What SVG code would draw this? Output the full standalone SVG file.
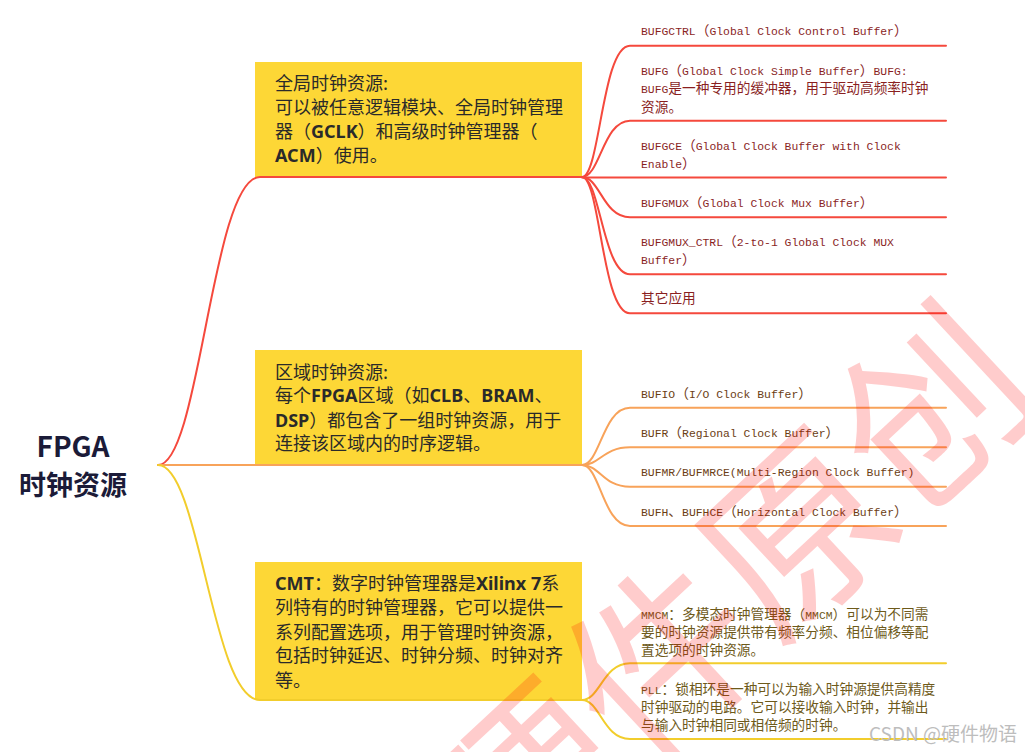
<svg xmlns="http://www.w3.org/2000/svg" width="1025" height="752" viewBox="0 0 1025 752">
<style>
.box{fill:#fdd736;}
.bt{font-family:"Noto Sans CJK SC","Noto Sans",sans-serif;font-size:18px;fill:#2a2a2a;}
.b{font-weight:bold;font-family:"Noto Sans","Noto Sans CJK SC",sans-serif;}
.root{font-family:"Noto Sans CJK SC","Noto Sans",sans-serif;font-weight:bold;fill:#1b1b38;text-anchor:middle;}
.lt{font-family:"Liberation Mono","Noto Sans CJK SC",monospace;font-size:11.4px;}
.cj{font-family:"Noto Sans CJK SC",sans-serif;font-size:13.7px;}
.tr{fill:#8a1f1f;}
.to{fill:#6b3d14;}
.ty{fill:#6e5a1a;}
.cn{fill:none;stroke-width:2;stroke-linecap:round;}
.lr{stroke:#f5493d;}
.lo{stroke:#f8a35a;}
.ly{stroke:#f2cd2c;}
.wm{font-family:"Noto Sans CJK SC",sans-serif;font-size:185px;fill:#ff0000;fill-opacity:0.2;}
.csdn{font-family:"Noto Sans CJK SC",sans-serif;font-size:19px;fill:#bdbdbd;}
</style>

<g id="root">
<text class="root" x="73" y="457" font-size="28">FPGA</text>
<text class="root" x="73" y="495" font-size="27">时钟资源</text>
</g>

<g id="box-global">
<rect class="box" x="255" y="62" width="327" height="115"/>
<text class="bt" x="275" y="89.5">全局时钟资源:</text>
<text class="bt" x="275" y="113.8">可以被任意逻辑模块、全局时钟管理</text>
<text class="bt" x="275" y="138.1">器（<tspan class="b">GCLK</tspan>）和高级时钟管理器（</text>
<text class="bt" x="275" y="162.4"><tspan class="b">ACM</tspan>）使用。</text>
</g>

<g id="box-region">
<rect class="box" x="255" y="350" width="327" height="115"/>
<text class="bt" x="275" y="378.5">区域时钟资源:</text>
<text class="bt" x="275" y="402">每个<tspan class="b">FPGA</tspan>区域（如<tspan class="b">CLB</tspan>、<tspan class="b">BRAM</tspan>、</text>
<text class="bt" x="275" y="426.5"><tspan class="b">DSP</tspan>）都包含了一组时钟资源，用于</text>
<text class="bt" x="275" y="449.5">连接该区域内的时序逻辑。</text>
</g>

<g id="box-cmt">
<rect class="box" x="255" y="562" width="327" height="138"/>
<text class="bt" x="275" y="589.5"><tspan class="b">CMT</tspan>：数字时钟管理器是<tspan class="b">Xilinx 7</tspan>系</text>
<text class="bt" x="275" y="614">列特有的时钟管理器，它可以提供一</text>
<text class="bt" x="275" y="638.5">系列配置选项，用于管理时钟资源，</text>
<text class="bt" x="275" y="662">包括时钟延迟、时钟分频、时钟对齐</text>
<text class="bt" x="275" y="686.5">等。</text>
</g>

<g id="connectors">
<path class="cn lr" d="M158,465 C200,465 212,177 260,177 L582,177"/>
<path class="cn lo" d="M158,465 L582,465"/>
<path class="cn ly" d="M158,465 C200,465 212,700 260,700 L582,700"/>

<path class="cn lr" d="M582,177 C600,177 602,45.7 630,45.7 L946,45.7"/>
<path class="cn lr" d="M582,177 C600,177 603,120.7 630,120.7 L946,120.7"/>
<path class="cn lr" d="M582,177.5 L946,177.5"/>
<path class="cn lr" d="M582,177 C600,177 603,217.3 630,217.3 L946,217.3"/>
<path class="cn lr" d="M582,177 C600,177 603,274.3 630,274.3 L946,274.3"/>
<path class="cn lr" d="M582,177 C600,177 602,313.3 630,313.3 L946,313.3"/>

<path class="cn lo" d="M582,465 C600,465 603,407.7 630,407.7 L946,407.7"/>
<path class="cn lo" d="M582,465 C600,465 603,447.3 630,447.3 L946,447.3"/>
<path class="cn lo" d="M582,465 C600,465 603,486.7 630,486.7 L946,486.7"/>
<path class="cn lo" d="M582,465 C600,465 603,526 630,526 L946,526"/>

<path class="cn ly" d="M582,700 C600,700 603,663.3 630,663.3 L946,663.3"/>
<path class="cn ly" d="M582,700 C600,700 603,739 630,739 L946,739"/>
</g>

<g id="leaf-bufgctrl"><text class="lt tr" x="641" y="35">BUFGCTRL<tspan class="cj">（</tspan>Global Clock Control Buffer<tspan class="cj">）</tspan></text></g>
<g id="leaf-bufg">
<text class="lt tr" x="641" y="74.5">BUFG<tspan class="cj">（</tspan>Global Clock Simple Buffer<tspan class="cj">）</tspan>BUFG:</text>
<text class="lt tr" x="641" y="93">BUFG<tspan class="cj">是一种专用的缓冲器，用于驱动高频率时钟</tspan></text>
<text class="lt tr" x="641" y="111.5"><tspan class="cj">资源。</tspan></text>
</g>
<g id="leaf-bufgce">
<text class="lt tr" x="641" y="149.5">BUFGCE<tspan class="cj">（</tspan>Global Clock Buffer with Clock</text>
<text class="lt tr" x="641" y="167.5">Enable<tspan class="cj">）</tspan></text>
</g>
<g id="leaf-bufgmux"><text class="lt tr" x="641" y="206.8">BUFGMUX<tspan class="cj">（</tspan>Global Clock Mux Buffer<tspan class="cj">）</tspan></text></g>
<g id="leaf-bufgmux-ctrl">
<text class="lt tr" x="641" y="246.2">BUFGMUX_CTRL<tspan class="cj">（</tspan>2-to-1 Global Clock MUX</text>
<text class="lt tr" x="641" y="263.8">Buffer<tspan class="cj">）</tspan></text>
</g>
<g id="leaf-other"><text class="lt tr" x="641" y="303.3"><tspan class="cj">其它应用</tspan></text></g>

<g id="leaf-bufio"><text class="lt to" x="641" y="397.8">BUFIO<tspan class="cj">（</tspan>I/O Clock Buffer<tspan class="cj">）</tspan></text></g>
<g id="leaf-bufr"><text class="lt to" x="641" y="436.8">BUFR<tspan class="cj">（</tspan>Regional Clock Buffer<tspan class="cj">）</tspan></text></g>
<g id="leaf-bufmr"><text class="lt to" x="641" y="476.2">BUFMR/BUFMRCE(Multi-Region Clock Buffer)</text></g>
<g id="leaf-bufh"><text class="lt to" x="641" y="516.2">BUFH<tspan class="cj">、</tspan>BUFHCE<tspan class="cj">（</tspan>Horizontal Clock Buffer<tspan class="cj">）</tspan></text></g>

<g id="leaf-mmcm">
<text class="lt ty" x="641" y="618.5">MMCM<tspan class="cj">：多模态时钟管理器（</tspan>MMCM<tspan class="cj">）可以为不同需</tspan></text>
<text class="lt ty" x="641" y="637.3"><tspan class="cj">要的时钟资源提供带有频率分频、相位偏移等配</tspan></text>
<text class="lt ty" x="641" y="655"><tspan class="cj">置选项的时钟资源。</tspan></text>
</g>
<g id="leaf-pll">
<text class="lt ty" x="641" y="693.5">PLL<tspan class="cj">：锁相环是一种可以为输入时钟源提供高精度</tspan></text>
<text class="lt ty" x="641" y="711.7"><tspan class="cj">时钟驱动的电路。它可以接收输入时钟，并输出</tspan></text>
<text class="lt ty" x="641" y="730"><tspan class="cj">与输入时钟相同或相倍频的时钟。</tspan></text>
</g>

<text class="wm" transform="translate(505,900) rotate(-43)">硬件原创</text>
<text class="csdn" x="869" y="741">CSDN @硬件物语</text>
</svg>
